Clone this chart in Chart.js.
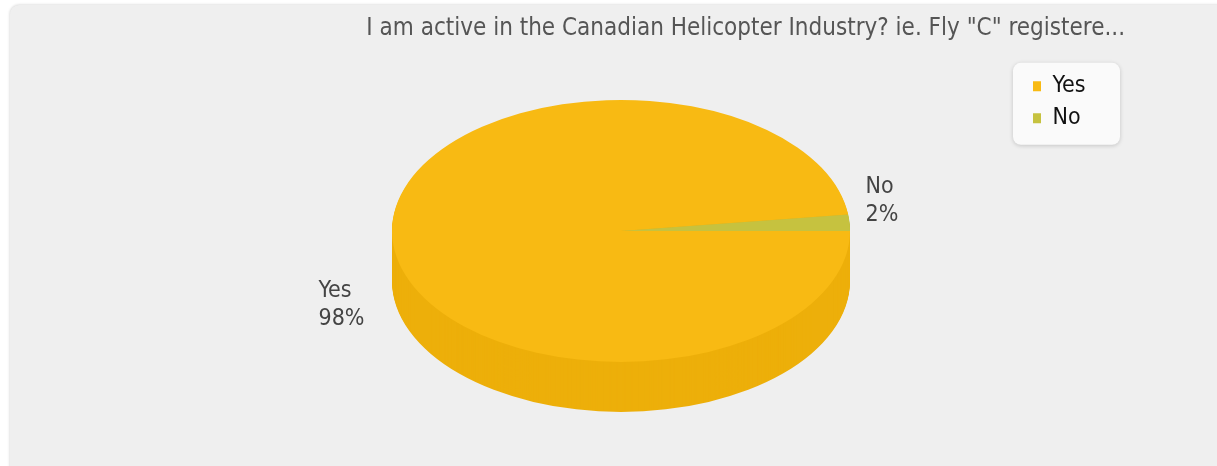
<!DOCTYPE html>
<html>
<head>
<meta charset="utf-8">
<script src="https://cdn.jsdelivr.net/npm/chart.js@4.4.0/dist/chart.umd.min.js"></script>
<style>
	html, body { margin: 0; padding: 0; background: #fff; overflow: hidden; }
	#card { position: absolute; left: 10px; top: 5px; width: 1240px; height: 500px; background: #efefef; border-radius: 9px; box-shadow: 0 0 3px rgba(0,0,0,0.22); }
	#wrap { position: absolute; left: 0; top: 0; width: 1217px; height: 466px; }
</style>
</head>
<body>
<div id="card"></div>
<div id="wrap"><canvas id="pie-chart"></canvas></div>
<script>
// Dati
var title = 'I am active in the Canadian Helicopter Industry? ie. Fly "C" registere...';
var answers = ['Yes', 'No'];
var percents = [98, 2];
var colors = ['#F8BA13', '#C6C23F'];
var sideColors = ['#EDAF0A', '#B9B534'];

var fontName = "'Liberation Sans Narrow', 'DejaVu Sans Condensed', 'Liberation Sans', sans-serif";
var tilt = 0.572;      // schiacciamento della torta
var depth = 50;        // spessore del bordo in px
var legendWidth = 101;

Chart.defaults.font.family = fontName;

// Torta 3D: lato, etichette e riquadro legenda
var pie3d = {
	id: 'pie3d',
	beforeLayout: function(chart){
		var lg = chart.legend;
		if (lg && !lg._wide) {
			var fit = lg.fit;
			lg.fit = function(){ fit.call(this); this.width = Math.max(this.width, legendWidth); };
			lg._wide = true;
		}
	},
	beforeDraw: function(chart){
		var lg = chart.legend, hb = lg.legendHitBoxes;
		if (!hb || !hb.length) { return; }
		var ctx = chart.ctx;
		var x = lg.left - 11, y = hb[0].top - 12;
		var w = lg.width + 6, h = hb[hb.length - 1].top + hb[hb.length - 1].height + 15 - y;
		ctx.save();
		ctx.shadowColor = 'rgba(0,0,0,0.18)';
		ctx.shadowBlur = 4;
		ctx.shadowOffsetY = 1;
		ctx.fillStyle = '#fafafa';
		ctx.beginPath();
		ctx.roundRect(x, y, w, h, 8);
		ctx.fill();
		ctx.restore();
	},
	beforeDatasetsDraw: function(chart){
		var ctx = chart.ctx;
		var arcs = chart.getDatasetMeta(0).data;
		var cx = arcs[0].x, cy = arcs[0].y;
		ctx.save();
		ctx.translate(cx, cy);
		ctx.scale(1, tilt);
		ctx.translate(-cx, -cy);
		for (var d = depth; d > 0; d--) {
			arcs.forEach(function(arc, i){
				var oy = arc.y + d / tilt;
				ctx.beginPath();
				ctx.moveTo(arc.x, oy);
				ctx.arc(arc.x, oy, arc.outerRadius, arc.startAngle, arc.endAngle);
				ctx.closePath();
				ctx.fillStyle = sideColors[i];
				ctx.fill();
			});
		}
	},
	afterDatasetsDraw: function(chart){
		var ctx = chart.ctx;
		ctx.restore();

		var arcs = chart.getDatasetMeta(0).data;
		ctx.save();
		ctx.font = '23px ' + fontName;
		ctx.fillStyle = '#444';
		ctx.textAlign = 'left';
		ctx.textBaseline = 'middle';
		arcs.forEach(function(arc, i){
			var mid = (arc.startAngle + arc.endAngle) / 2;
			var c = Math.cos(mid), s = Math.sin(mid);
			var lines = [answers[i], percents[i] + '%'];
			var bw = Math.max(ctx.measureText(lines[0]).width, ctx.measureText(lines[1]).width);
			var rimX = arc.x + c * arc.outerRadius;
			var rimY = arc.y + s * arc.outerRadius * tilt;
			var left = c < 0;
			var x = left ? rimX - 28 - bw : rimX + 16;
			var y = rimY + (left ? depth + 16 : -22);
			ctx.fillText(lines[0], x, y - 14);
			ctx.fillText(lines[1], x, y + 14);
		});
		ctx.restore();
	}
};

var ctx = document.getElementById('pie-chart').getContext('2d');
var pieChart = new Chart(ctx, {
	type: 'pie',
	data: {
		labels: answers,
		datasets: [{
			data: percents,
			backgroundColor: colors,
			borderWidth: 0,
			hoverOffset: 0,
			radius: 229,
			clip: false
		}]
	},
	options: {
		responsive: true,
		maintainAspectRatio: false,
		animation: false,
		rotation: 90,
		layout: {
			padding: { left: 218, right: 92, top: 0, bottom: 70 }
		},
		plugins: {
			title: {
				display: true,
				text: title,
				align: 'end',
				color: '#555',
				font: { size: 24, weight: 'normal' },
				padding: { top: 14, bottom: 23 }
			},
			legend: {
				position: 'right',
				align: 'start',
				fullSize: false,
				labels: {
					boxWidth: 8,
					boxHeight: 10,
					padding: 9,
					color: '#111',
					font: { size: 23 }
				}
			},
			tooltip: { enabled: false }
		}
	},
	plugins: [pie3d]
});
</script>
</body>
</html>
